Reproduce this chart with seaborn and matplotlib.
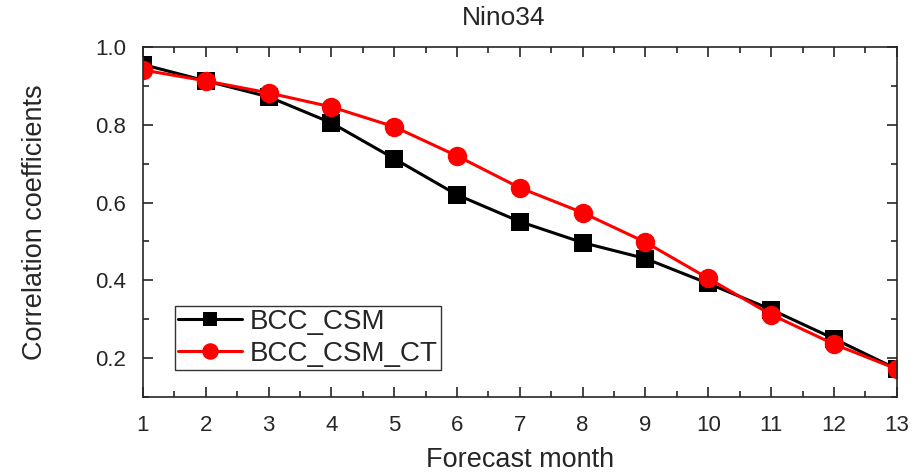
import numpy as np
import pandas as pd
import matplotlib
matplotlib.use('Agg')
import matplotlib.pyplot as plt
import seaborn as sns
from matplotlib.ticker import MultipleLocator

# data
months = [1, 2, 3, 4, 5, 6, 7, 8, 9, 10, 11, 12, 13]
bcc_csm = [0.955, 0.913, 0.872, 0.805, 0.713, 0.620, 0.551, 0.497, 0.456, 0.392, 0.325, 0.250, 0.172]
bcc_csm_ct = [0.941, 0.913, 0.882, 0.846, 0.795, 0.720, 0.638, 0.574, 0.498, 0.405, 0.312, 0.236, 0.172]

sns.set_style('ticks')
plt.rcParams['font.family'] = ['Liberation Sans', 'DejaVu Sans']

fig = plt.figure(figsize=(9.16, 4.74), dpi=100)
ax = fig.add_axes([0.156, 0.1624, 0.823, 0.7384])

sns.lineplot(x=months, y=bcc_csm, color='black', marker='s', markersize=12.5,
             markeredgewidth=0, linewidth=2.2, label='BCC_CSM', ax=ax)
sns.lineplot(x=months, y=bcc_csm_ct, color='red', marker='o', markersize=14,
             markeredgewidth=0, linewidth=2.2, label='BCC_CSM_CT', ax=ax)

ax.set_xlim(1, 13)
ax.set_ylim(0.1, 1.0)
ax.xaxis.set_major_locator(MultipleLocator(1))
ax.xaxis.set_minor_locator(MultipleLocator(0.5))
ax.yaxis.set_major_locator(MultipleLocator(0.2))
ax.yaxis.set_minor_locator(MultipleLocator(0.1))
ax.tick_params(which='both', direction='in', top=True, right=True, width=1.2)
ax.tick_params(which='major', length=7)
ax.tick_params(which='minor', length=4)
ax.tick_params(axis='x', which='major', pad=13)
ax.tick_params(axis='y', which='major', pad=12)
for lab in ax.get_xticklabels() + ax.get_yticklabels():
    lab.set_fontsize(16)
for s in ax.spines.values():
    s.set_linewidth(1.2)

ax.set_xlabel('Forecast month', fontsize=19.5, labelpad=8)
ax.set_ylabel('Correlation coefficients', fontsize=19.5, labelpad=34)
ax.set_title('Nino34', fontsize=19, x=0.479, pad=16)

leg = ax.legend(loc='lower left', bbox_to_anchor=(0.042, 0.077), fontsize=20,
                frameon=True, fancybox=False, edgecolor='black', borderpad=0.12,
                handlelength=2.3, handletextpad=0.3, labelspacing=0.2,
                borderaxespad=0, markerscale=0.85)
leg.get_frame().set_linewidth(1.0)

fig.savefig('out.png', dpi=100)
